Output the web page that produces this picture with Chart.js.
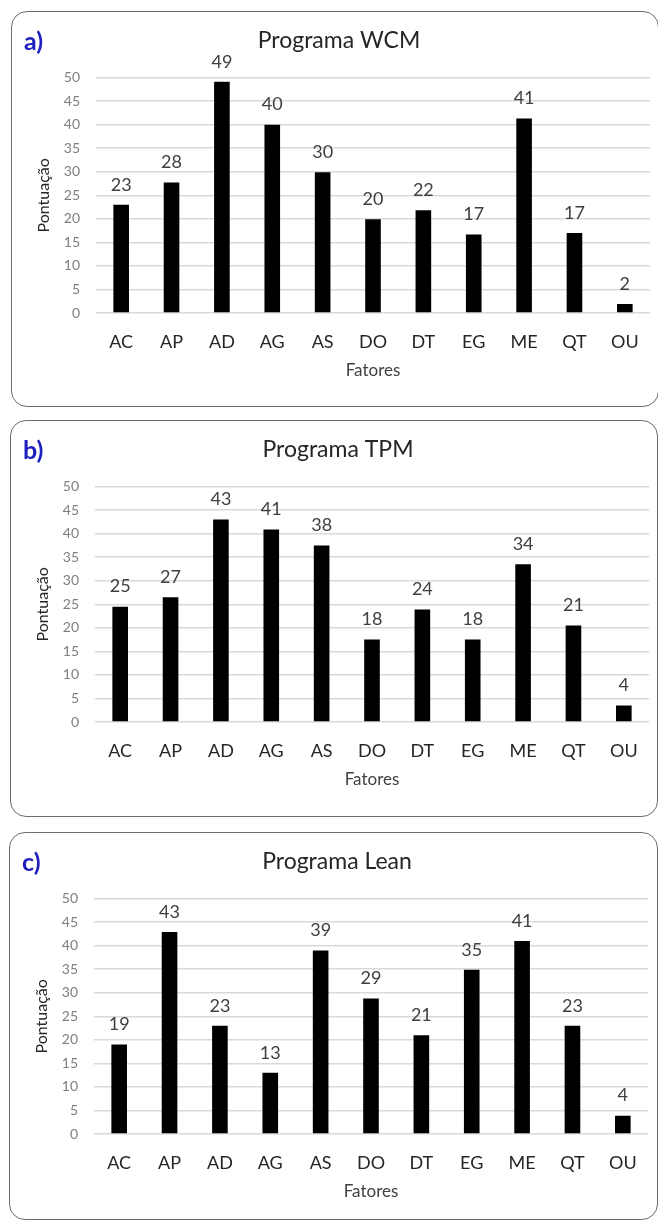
<!DOCTYPE html>
<html>
<head>
<meta charset="utf-8">
<script src="https://cdn.jsdelivr.net/npm/chart.js@4.4.0/dist/chart.umd.min.js"></script>
<style>
  html, body { margin: 0; padding: 0; background: #fff; }
  body { width: 658px; height: 1221px; position: relative; overflow: hidden; font-family: Lato, 'Open Sans', sans-serif; }
  .panel { position: absolute; border: 1.5px solid #6e6e6e; border-radius: 16px; box-sizing: border-box; }
  .panel canvas { position: absolute; left: -1.5px; top: -1.5px; }
  .tag { position: absolute; left: 12px; top: 13px; font: bold 25px Lato, sans-serif; color: #2020c0; }
</style>
</head>
<body>
<div class="panel" style="left:11px; top:11px; width:648px; height:396px;">
  <canvas id="chartA" width="649" height="395"></canvas>
  <div class="tag">a)</div>
</div>
<div class="panel" style="left:10px; top:420px; width:648px; height:397px;">
  <canvas id="chartB" width="649" height="395"></canvas>
  <div class="tag">b)</div>
</div>
<div class="panel" style="left:9px; top:832px; width:649px; height:388px;">
  <canvas id="chartC" width="649" height="395"></canvas>
  <div class="tag">c)</div>
</div>
<script>
// factor codes on the x axis
const categories = ['AC', 'AP', 'AD', 'AG', 'AS', 'DO', 'DT', 'EG', 'ME', 'QT', 'OU'];

// scores
const wcmScores = [23, 27.7, 49.1, 40, 29.9, 19.9, 21.8, 16.7, 41.3, 17, 1.9];
const tpmScores = [24.5, 26.5, 43, 40.9, 37.5, 17.5, 23.9, 17.5, 33.5, 20.5, 3.5];
const leanScores = [19, 42.9, 23, 13, 39, 28.8, 21, 34.9, 41, 23, 3.9];

const yMin = 0;
const yMax = 50;
const yStep = 5;

const FONT = 'Lato, "Open Sans", sans-serif';

// numbers drawn above each bar
const valueLabels = {
  id: 'valueLabels',
  afterDatasetsDraw(chart) {
    const ctx = chart.ctx;
    const meta = chart.getDatasetMeta(0);
    const data = chart.data.datasets[0].data;
    ctx.save();
    ctx.font = '18px ' + FONT;
    ctx.fillStyle = '#404040';
    ctx.textAlign = 'center';
    ctx.textBaseline = 'middle';
    meta.data.forEach((bar, i) => {
      ctx.fillText(String(Math.round(data[i])), bar.x, bar.y - 20);
    });
    ctx.restore();
  }
};

function renderChart(id, title, scores) {
  return new Chart(document.getElementById(id), {
    type: 'bar',
    data: {
      labels: categories,
      datasets: [{
        data: scores,
        backgroundColor: '#000000',
        barPercentage: 0.31,
        categoryPercentage: 1
      }]
    },
    options: {
      responsive: false,
      animation: false,
      layout: { padding: { left: 17, right: 10, top: 0, bottom: 0 } },
      plugins: {
        legend: { display: false },
        tooltip: { enabled: false },
        title: {
          display: true,
          text: title,
          color: '#262626',
          font: { family: FONT, size: 23, weight: 'normal' },
          padding: { top: 16, bottom: 23 }
        }
      },
      scales: {
        x: {
          grid: { display: false, drawTicks: false },
          border: { display: false },
          ticks: { color: '#262626', font: { family: FONT, size: 18 }, padding: 18, maxRotation: 0 },
          title: {
            display: true,
            text: 'Fatores',
            color: '#404040',
            font: { family: FONT, size: 17 },
            padding: { top: 0, bottom: 25 }
          },
          afterFit: scale => { scale.height = 93; }
        },
        y: {
          min: yMin,
          max: yMax,
          grid: { color: '#d9d9d9', lineWidth: 1.5, drawTicks: false },
          border: { display: false },
          ticks: { stepSize: yStep, color: '#7f7f7f', font: { family: FONT, size: 14 }, padding: 16 },
          title: {
            display: true,
            text: 'Pontuação',
            color: '#262626',
            font: { family: FONT, size: 16 },
            padding: { top: 6, bottom: 0 }
          },
          afterFit: scale => { scale.width = 68; }
        }
      }
    },
    plugins: [valueLabels]
  });
}

renderChart('chartA', 'Programa WCM', wcmScores);
renderChart('chartB', 'Programa TPM', tpmScores);
renderChart('chartC', 'Programa Lean', leanScores);
</script>
</body>
</html>
